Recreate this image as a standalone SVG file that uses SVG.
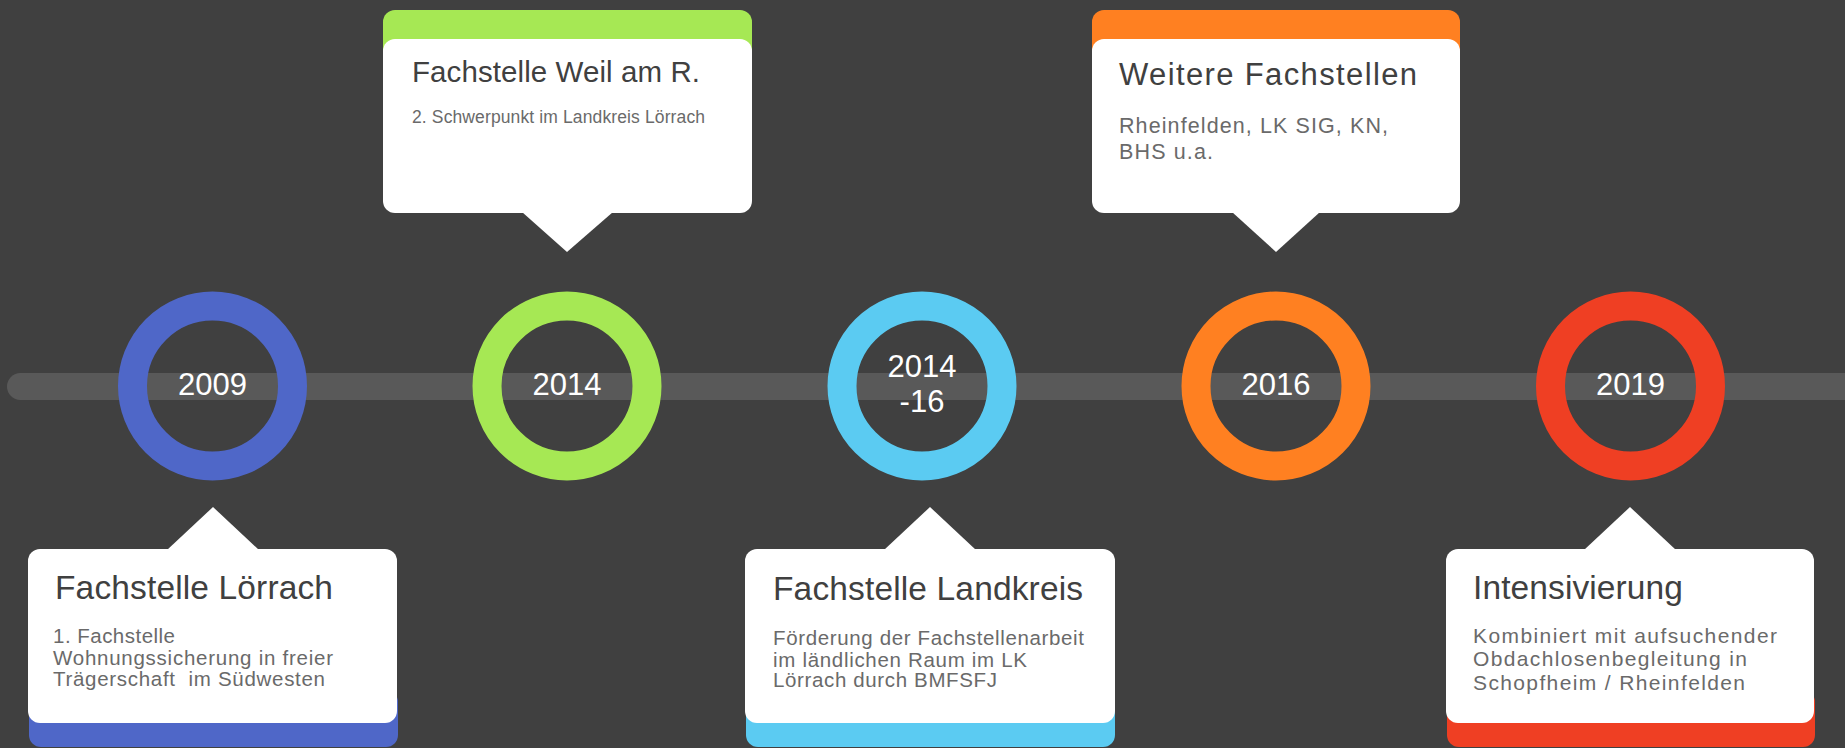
<svg xmlns="http://www.w3.org/2000/svg" width="1845" height="748" viewBox="0 0 1845 748">
<defs>
<style>
.title{font-family:"Liberation Sans",Arial,sans-serif;fill:#404040;}
.body{font-family:"Liberation Sans",Arial,sans-serif;fill:#6a6a6a;}
.year{font-family:"Liberation Sans",Arial,sans-serif;fill:#ffffff;font-size:31px;text-anchor:middle;}
.ring{fill:none;stroke-width:29;}
.card{fill:#ffffff;}
</style>
</defs>
<rect x="0" y="0" width="1845" height="748" fill="#404040"/>
<g id="connectors">
<rect x="7" y="373" width="1860" height="27" rx="13.5" fill="#595959"/>
</g>
<g id="year-2009">
<circle class="ring" cx="212.5" cy="386" r="80" stroke="#4F67C8"/>
<text class="year" x="212.5" y="395">2009</text>
</g>
<g id="year-2014">
<circle class="ring" cx="567" cy="386" r="80" stroke="#A6E854"/>
<text class="year" x="567" y="395">2014</text>
</g>
<g id="year-2014-16">
<circle class="ring" cx="922" cy="386" r="80" stroke="#5BCBF2"/>
<text class="year" x="922" y="377">2014</text>
<text class="year" x="922" y="412">-16</text>
</g>
<g id="year-2016">
<circle class="ring" cx="1276" cy="386" r="80" stroke="#FF8021"/>
<text class="year" x="1276" y="395">2016</text>
</g>
<g id="year-2019">
<circle class="ring" cx="1630.5" cy="386" r="80" stroke="#EF3F23"/>
<text class="year" x="1630.5" y="395">2019</text>
</g>
<g id="card-loerrach">
<rect x="29" y="690" width="369" height="57" rx="12" fill="#4F67C8"/>
<rect class="card" x="28" y="549" width="369" height="174" rx="12"/>
<polygon class="card" points="167,550 213,507 259,550"/>
<text class="title" x="55" y="599" font-size="33.5" textLength="278" lengthAdjust="spacing">Fachstelle Lörrach</text>
<text class="body" x="53" y="643" font-size="20.5" textLength="122" lengthAdjust="spacing">1. Fachstelle</text>
<text class="body" x="53" y="665" font-size="20.5" textLength="280" lengthAdjust="spacing">Wohnungssicherung in freier</text>
<text class="body" x="53" y="686" font-size="20.5" textLength="272" lengthAdjust="spacing" xml:space="preserve">Trägerschaft  im Südwesten</text>
</g>
<g id="card-weil">
<rect x="383" y="10" width="369" height="60" rx="12" fill="#A6E854"/>
<rect class="card" x="383" y="39" width="369" height="174" rx="12"/>
<polygon class="card" points="522,212 567,252 613,212"/>
<text class="title" x="412" y="82" font-size="29.5" textLength="288" lengthAdjust="spacing">Fachstelle Weil am R.</text>
<text class="body" x="412" y="123" font-size="17.5" textLength="293" lengthAdjust="spacing">2. Schwerpunkt im Landkreis Lörrach</text>
</g>
<g id="card-landkreis">
<rect x="746" y="690" width="369" height="57" rx="12" fill="#5BCBF2"/>
<rect class="card" x="745" y="549" width="370" height="174" rx="12"/>
<polygon class="card" points="884,550 930,507 976,550"/>
<text class="title" x="773" y="600" font-size="33.5" textLength="310" lengthAdjust="spacing">Fachstelle Landkreis</text>
<text class="body" x="773" y="645" font-size="20.5" textLength="311" lengthAdjust="spacing">Förderung der Fachstellenarbeit</text>
<text class="body" x="773" y="667" font-size="20.5" textLength="254" lengthAdjust="spacing">im ländlichen Raum im LK</text>
<text class="body" x="773" y="687" font-size="20.5" textLength="224" lengthAdjust="spacing">Lörrach durch BMFSFJ</text>
</g>
<g id="card-weitere">
<rect x="1092" y="10" width="368" height="60" rx="12" fill="#FF8021"/>
<rect class="card" x="1092" y="39" width="368" height="174" rx="12"/>
<polygon class="card" points="1232,212 1276,252 1320,212"/>
<text class="title" x="1119" y="85" font-size="31" textLength="298" lengthAdjust="spacing">Weitere Fachstellen</text>
<text class="body" x="1119" y="133" font-size="21.5" textLength="269" lengthAdjust="spacing">Rheinfelden, LK SIG, KN,</text>
<text class="body" x="1119" y="159" font-size="21.5" textLength="94" lengthAdjust="spacing">BHS u.a.</text>
</g>
<g id="card-intensivierung">
<rect x="1447" y="690" width="368" height="57" rx="12" fill="#EF3F23"/>
<rect class="card" x="1446" y="549" width="368" height="174" rx="12"/>
<polygon class="card" points="1584,550 1630,507 1676,550"/>
<text class="title" x="1473" y="599" font-size="33.5" textLength="210" lengthAdjust="spacing">Intensivierung</text>
<text class="body" x="1473" y="643" font-size="21" textLength="304" lengthAdjust="spacing">Kombiniert mit aufsuchender</text>
<text class="body" x="1473" y="666" font-size="21" textLength="274" lengthAdjust="spacing">Obdachlosenbegleitung in</text>
<text class="body" x="1473" y="690" font-size="21" textLength="272" lengthAdjust="spacing">Schopfheim / Rheinfelden</text>
</g>
</svg>
